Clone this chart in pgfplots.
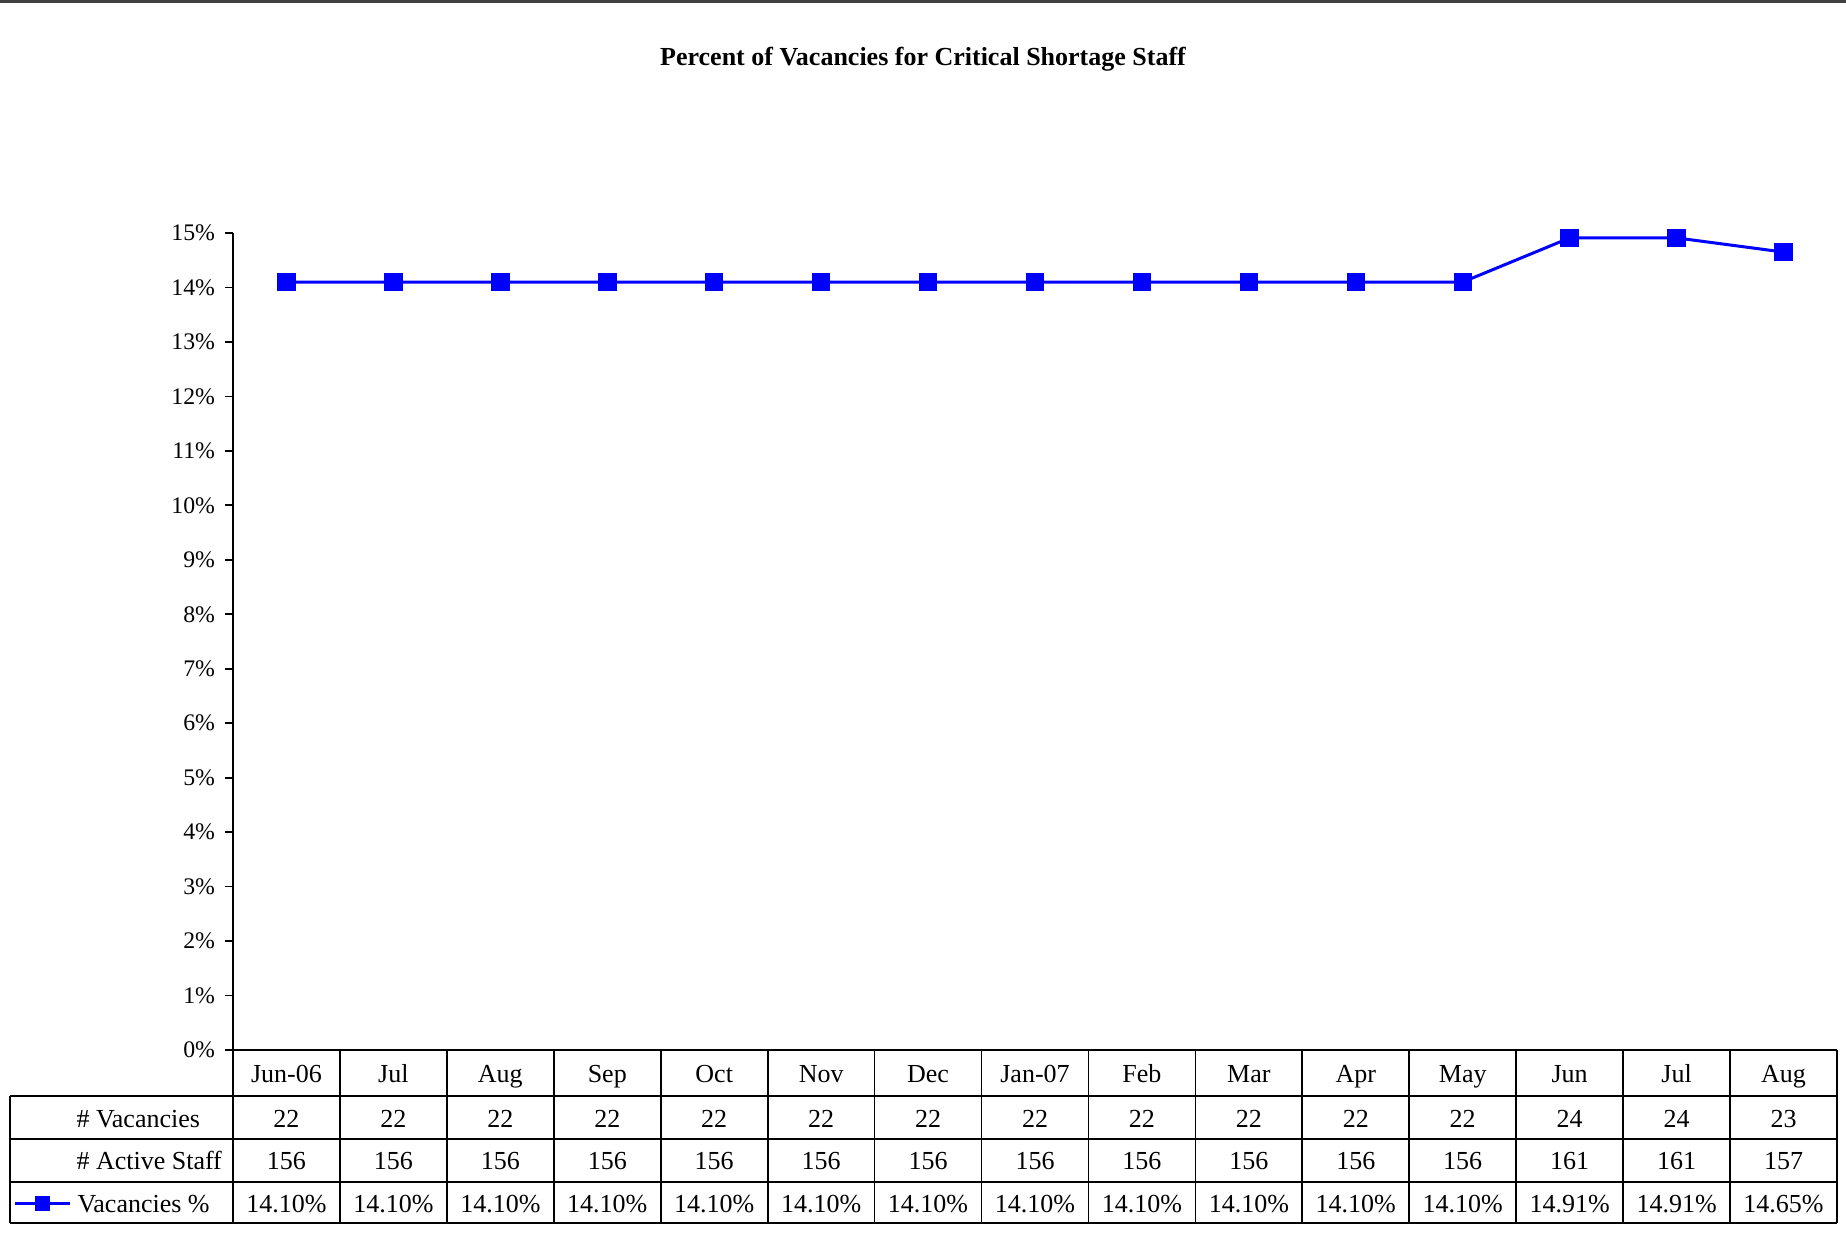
\documentclass[border=0pt]{standalone}
\usepackage{pgfplots}
\pgfplotsset{compat=1.18}
\usepackage{pgfplotstable}
\usepackage{fontspec}
\setmainfont{Liberation Serif}
\definecolor{serblue}{RGB}{0,0,255}
\pgfplotstableread{
idx month vac staff pct
1 Jun-06 22 156 14.10
2 Jul 22 156 14.10
3 Aug 22 156 14.10
4 Sep 22 156 14.10
5 Oct 22 156 14.10
6 Nov 22 156 14.10
7 Dec 22 156 14.10
8 Jan-07 22 156 14.10
9 Feb 22 156 14.10
10 Mar 22 156 14.10
11 Apr 22 156 14.10
12 May 22 156 14.10
13 Jun 24 161 14.91
14 Jul 24 161 14.91
15 Aug 23 157 14.65
}\datatable
\begin{document}
\begin{tikzpicture}[x=0.4pt,y=-0.4pt]
\path[use as bounding box] (0,0) rectangle (1846,1233);
\fill[black!75] (0,0) rectangle (1846,3);
\node[font=\bfseries\fontsize{10.4}{12}\selectfont] at (923,59) {Percent of Vacancies for Critical Shortage Staff};
\begin{axis}[
  at={(93.2pt,-420pt)}, anchor=south west,
  scale only axis, width=641.6pt, height=326.8pt,
  xmin=0.5, xmax=15.5, ymin=0, ymax=15,
  axis x line=none,
  axis y line*=left,
  axis line style={black, line width=0.7pt},
  xtick=\empty,
  ytick={0,1,...,15},
  yticklabel={\pgfmathprintnumber{\tick}\%},
  /pgf/number format/assume math mode=true,
  tick align=outside,
  major tick length=3.2pt,
  tick style={black, line width=0.7pt},
  yticklabel style={font=\fontsize{9.5}{11}\selectfont, inner sep=1pt, xshift=-2.8pt},
  clip=false,
]
\addplot[serblue, line width=1.2pt, mark=square*, mark size=3.1pt, mark options={solid, fill=serblue, draw=serblue}] table[x=idx, y=pct] {\datatable};
\end{axis}
% data table
\begin{scope}[line width=0.7pt]
\draw (233,1050) -- (1837,1050);
\draw (10,1096) -- (1837,1096);
\draw (10,1139) -- (1837,1139);
\draw (10,1182) -- (1837,1182);
\draw (10,1223) -- (1837,1223);
\draw (10,1096) -- (10,1223);
\foreach \k in {0,...,15}{
  \pgfmathsetmacro\lx{233+106.933*\k}
  \draw (\lx,1050) -- (\lx,1223);
}
\end{scope}
\begin{scope}[font=\fontsize{10.4}{12}\selectfont]
\node[anchor=base west, inner sep=0pt] at (76,1127) {\# Vacancies};
\node[anchor=base west, inner sep=0pt] at (76,1169) {\# Active Staff};
\node[anchor=base west, inner sep=0pt] at (77,1212) {Vacancies \%};
\draw[serblue, line width=1.2pt] (15,1203) -- (70,1203);
\fill[serblue] (35,1196) rectangle (50,1211);
\foreach \i in {0,...,14}{
  \pgfplotstablegetelem{\i}{month}\of\datatable \let\mon\pgfplotsretval
  \pgfplotstablegetelem{\i}{vac}\of\datatable \let\vac\pgfplotsretval
  \pgfplotstablegetelem{\i}{staff}\of\datatable \let\stf\pgfplotsretval
  \pgfplotstablegetelem{\i}{pct}\of\datatable \let\pct\pgfplotsretval
  \pgfmathsetmacro\cx{233+106.933*(\i+0.5)}
  \node[anchor=base, inner sep=0pt] at (\cx,1082) {\mon};
  \node[anchor=base, inner sep=0pt] at (\cx,1127) {\vac};
  \node[anchor=base, inner sep=0pt] at (\cx,1169) {\stf};
  \node[anchor=base, inner sep=0pt] at (\cx,1212) {\pct\%};
}
\end{scope}
\end{tikzpicture}
\end{document}
